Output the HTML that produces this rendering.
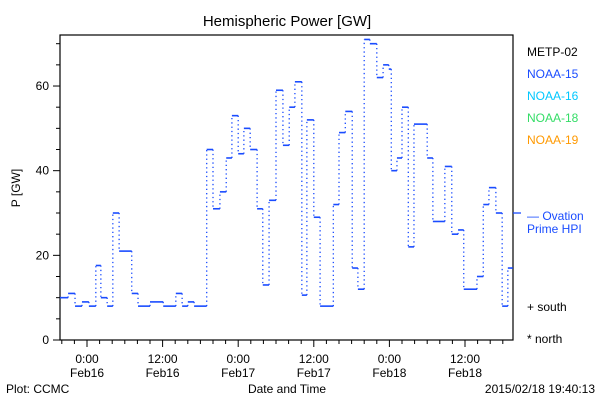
<!DOCTYPE html>
<html><head><meta charset="utf-8"><style>
body{margin:0;background:#fff;width:600px;height:400px;overflow:hidden}
svg{font-family:"Liberation Sans",sans-serif}
</style></head><body>
<svg id="c" width="600" height="400">
<text x="287" y="26" font-size="15" text-anchor="middle">Hemispheric Power [GW]</text>
<rect x="60" y="35" width="453" height="305" fill="none" stroke="#000" stroke-width="1.2"/>
<text x="20" y="188" font-size="12" text-anchor="middle" transform="rotate(-90 20 188)">P [GW]</text>
<text x="287" y="393" font-size="12" text-anchor="middle">Date and Time</text>
<text x="6" y="393" font-size="12">Plot: CCMC</text>
<text x="595" y="393" font-size="12" text-anchor="end">2015/02/18 19:40:13</text>
<g font-size="12">
<text x="527" y="56" fill="#000">METP-02</text>
<text x="527" y="78" fill="#1a4cff">NOAA-15</text>
<text x="527" y="100" fill="#00c8ff">NOAA-16</text>
<text x="527" y="122" fill="#33dd66">NOAA-18</text>
<text x="527" y="144" fill="#ff9900">NOAA-19</text>
<text x="527" y="311">+ south</text>
<text x="527" y="343">* north</text>
</g>
<text x="527" y="220" font-size="12" fill="#1a4cff">— Ovation</text>
<text x="527" y="233" font-size="12" fill="#1a4cff">Prime HPI</text>
</svg>
<script>
const yTicks=[0,20,40,60];
const xTickHours=[0,12,24,36,48,60];
const xTickLabels=["0:00","12:00","0:00","12:00","0:00","12:00"];
const xTickDays=["Feb16","Feb16","Feb17","Feb17","Feb18","Feb18"];
const times=[-4.3,-3.0,-1.9,-0.8,0.3,1.4,2.2,3.2,4.1,5.1,7.1,8.1,10,12.1,14.1,15.1,16,17,19,20,21.1,22.1,23,24,24.9,25.9,27,27.9,28.9,30,31.1,32.1,33,34.1,34.9,36,37,39.1,40,41,42.1,43,44,44.9,46,47,47.9,48.3,49.2,50,51,51.9,54,54.9,56.8,57.9,58.9,59.8,61.9,62.9,63.8,64.9,65.9,66.8];
const values=[10,11,8,9,8,17.6,10,8,30,21,11,8,9,8,11,8,9,8,45,31,35,43,53,44,50,45,31,13,33,59,46,55,61,10.6,52,29,8,32,49,54,17,12,71,70,62,65,64,40,43,55,22,51,43,28,41,25,26,12,15,32,36,30,8,17];
const endTime=67.6;
const ovation=[30];
const NS="http://www.w3.org/2000/svg";
const svg=document.getElementById('c');
const X=h=>87+h*6.3;
const Y=v=>340-v*4.233;
function mk(t,a){const e=document.createElementNS(NS,t);for(const k in a)e.setAttribute(k,a[k]);svg.appendChild(e);return e;}
// y ticks
for(let v=0;v<=70;v+=5){
  const major=v%20===0;
  const t=mk('line',{x1:60-(major?7:4),x2:60,y1:Y(v),y2:Y(v),stroke:'#000'});
  
  
}
yTicks.forEach(v=>{
  const t=mk('text',{x:49,y:Y(v)+4,'font-size':12,'text-anchor':'end'});t.textContent=v;
  
  
});
for(let h=-4;h<=66;h+=2){
  const major=h%12===0;
  const t=mk('line',{x1:X(h),x2:X(h),y1:340,y2:340+(major?7:4),stroke:'#000'});
  
  
}
xTickHours.forEach((h,i)=>{
  const a=mk('text',{x:X(h),y:363,'font-size':12,'text-anchor':'middle'});a.textContent=xTickLabels[i];
  
  
  const b=mk('text',{x:X(h),y:377,'font-size':12,'text-anchor':'middle'});b.textContent=xTickDays[i];
  
  
});
// series
for(let i=0;i<values.length;i++){
  const t0=times[i],t1=i+1<times.length?times[i+1]:endTime;
  const h=mk('line',{x1:X(t0),x2:X(t1),y1:Y(values[i]),y2:Y(values[i]),stroke:'#1a4cff','stroke-width':1.6});
  
  
  if(i+1<values.length){
    const v=mk('line',{x1:X(t1),x2:X(t1),y1:Y(values[i]),y2:Y(values[i+1]),stroke:'#1a4cff','stroke-width':1.3,'stroke-dasharray':'1.3,3'});
    
    
  }
}
const o=mk('line',{x1:513,x2:521,y1:Y(ovation[0]),y2:Y(ovation[0]),stroke:'#1a4cff','stroke-width':1.3});


</script>
</body></html>
